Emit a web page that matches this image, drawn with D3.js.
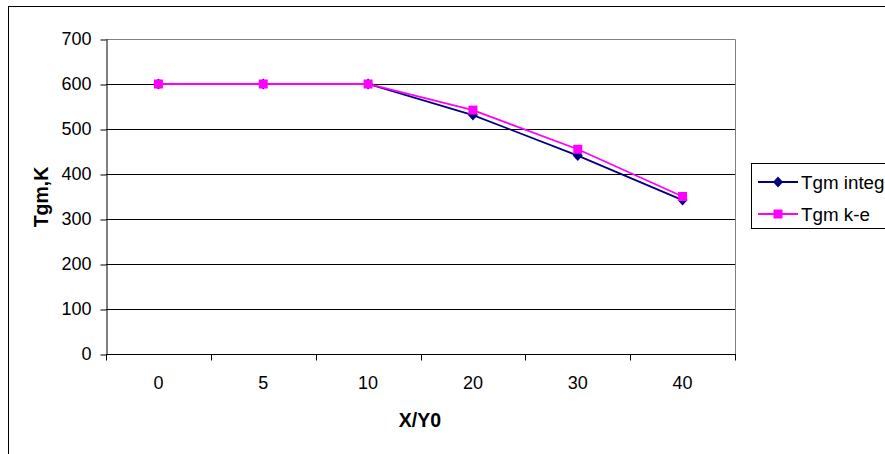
<!DOCTYPE html>
<html>
<head>
<meta charset="utf-8">
<script src="https://cdn.jsdelivr.net/npm/d3@7"></script>
<style>
  body { margin: 0; background: #fff; }
  text { font-family: Arial, "Liberation Sans", sans-serif; }
</style>
</head>
<body>
<svg id="viz"></svg>
<script>
const width = 885, height = 454;

// chart data
const categories = ["0", "5", "10", "20", "30", "40"];
const tgmInteg = [600, 600, 600, 531, 441, 342];
const tgmKe = [600, 600, 600, 542, 455, 350];
const yTicks = [0, 100, 200, 300, 400, 500, 600, 700];

const svg = d3.select("#viz")
  .attr("width", width)
  .attr("height", height);

// outer chart border
svg.append("rect")
  .attr("x", 8.5).attr("y", 6.5)
  .attr("width", 900).attr("height", 480)
  .attr("fill", "none")
  .attr("stroke", "#000")
  .attr("stroke-width", 1);

const plotL = 106, plotR = 735, plotT = 39, plotB = 354;

const x = d3.scaleBand().domain(categories).range([plotL, plotR]);
const y = d3.scaleLinear().domain([0, 700]).range([plotB, plotT]);

// gridlines
svg.append("g")
  .selectAll("line")
  .data(yTicks.filter(d => d > 0 && d < 700))
  .enter().append("line")
    .attr("x1", plotL).attr("x2", plotR)
    .attr("y1", d => Math.round(y(d)) + 0.5)
    .attr("y2", d => Math.round(y(d)) + 0.5)
    .attr("stroke", "#000")
    .attr("stroke-width", 1);

// plot area border top/right (gray)
svg.append("path")
  .attr("d", `M${plotL},${plotT + 0.5}H${plotR + 0.5}V${plotB}`)
  .attr("fill", "none")
  .attr("stroke", "#808080")
  .attr("stroke-width", 1);

// y axis
const yAxis = svg.append("g")
  .attr("transform", `translate(${plotL + 0.5},0)`)
  .call(d3.axisLeft(y).tickValues(yTicks).tickSize(6).tickPadding(9).tickSizeOuter(0));
yAxis.select(".domain").attr("stroke", "#000");
yAxis.selectAll(".tick line").attr("stroke", "#000")
  .attr("transform", "translate(0,0.5)");
yAxis.selectAll(".tick text")
  .attr("font-size", 18)
  .attr("font-family", "Arial, 'Liberation Sans', sans-serif")
  .attr("fill", "#000");

// x axis with ticks between categories
const xAxisG = svg.append("g")
  .attr("transform", `translate(0,${plotB + 0.5})`);
xAxisG.append("line")
  .attr("x1", plotL).attr("x2", plotR + 1)
  .attr("stroke", "#000");
const boundaries = categories.map(c => x(c)).concat([plotR]);
xAxisG.selectAll("line.tk")
  .data(boundaries)
  .enter().append("line")
    .attr("class", "tk")
    .attr("x1", d => Math.round(d) + 0.5).attr("x2", d => Math.round(d) + 0.5)
    .attr("y1", 0).attr("y2", 6)
    .attr("stroke", "#000");
xAxisG.selectAll("text")
  .data(categories)
  .enter().append("text")
    .attr("x", d => x(d) + x.bandwidth() / 2)
    .attr("y", 34)
    .attr("text-anchor", "middle")
    .attr("font-size", 18)
    .attr("fill", "#000")
    .text(d => d);

// axis titles
svg.append("text")
  .attr("x", 420).attr("y", 427)
  .attr("text-anchor", "middle")
  .attr("font-size", 19.5)
  .attr("font-weight", "bold")
  .text("X/Y0");

svg.append("text")
  .attr("transform", "translate(48,197) rotate(-90)")
  .attr("text-anchor", "middle")
  .attr("font-size", 19.5)
  .attr("font-weight", "bold")
  .text("Tgm,K");

// markers
const diamond = "M0,-5.5L5,0L0,5.5L-5,0Z";
const square = "M-4.5,-4.5H4.5V4.5H-4.5Z";

const series = [
  { name: "Tgm integ", values: tgmInteg, color: "#000080", marker: diamond },
  { name: "Tgm k-e", values: tgmKe, color: "#FF00FF", marker: square }
];

const line = d3.line()
  .x((d, i) => x(categories[i]) + x.bandwidth() / 2)
  .y(d => y(d));

series.forEach(s => {
  svg.append("path")
    .datum(s.values)
    .attr("d", line)
    .attr("fill", "none")
    .attr("stroke", s.color)
    .attr("stroke-width", 1.8);
  svg.append("g")
    .selectAll("path")
    .data(s.values)
    .enter().append("path")
      .attr("d", s.marker)
      .attr("transform", (d, i) => `translate(${x(categories[i]) + x.bandwidth() / 2},${y(d)})`)
      .attr("fill", s.color);
});

// legend
const legend = svg.append("g");
legend.append("rect")
  .attr("x", 751.5).attr("y", 163.5)
  .attr("width", 200).attr("height", 65)
  .attr("fill", "#fff")
  .attr("stroke", "#000");
series.forEach((s, i) => {
  const ly = 182 + i * 32;
  legend.append("line")
    .attr("x1", 758).attr("x2", 798)
    .attr("y1", ly).attr("y2", ly)
    .attr("stroke", s.color)
    .attr("stroke-width", 1.8);
  legend.append("path")
    .attr("d", s.marker)
    .attr("transform", `translate(778,${ly})`)
    .attr("fill", s.color);
  legend.append("text")
    .attr("x", 801).attr("y", ly + 6.5)
    .attr("font-size", 18.8)
    .attr("fill", "#000")
    .text(s.name);
});
</script>
</body>
</html>
